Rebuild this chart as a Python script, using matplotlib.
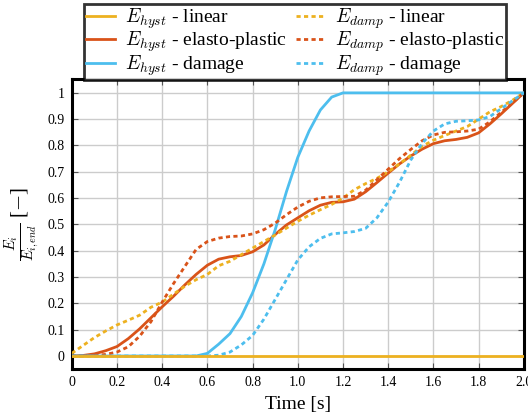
import numpy as np
import matplotlib
matplotlib.use("Agg")
import matplotlib.pyplot as plt

plt.rcParams['font.family'] = ['Liberation Serif', 'DejaVu Serif']
plt.rcParams['mathtext.fontset'] = 'cm'

time = [0.0, 0.05, 0.1, 0.15, 0.2, 0.25, 0.3, 0.35, 0.4, 0.45, 0.5, 0.55, 0.6, 0.65, 0.7,
        0.75, 0.8, 0.85, 0.9, 0.95, 1.0, 1.05, 1.1, 1.15, 1.2, 1.25, 1.3, 1.35, 1.4, 1.45,
        1.5, 1.55, 1.6, 1.65, 1.7, 1.75, 1.8, 1.85, 1.9, 1.95, 2.0]

hyst_linear = [0.0] * 41

hyst_ep = [0.0, 0.002, 0.008, 0.02, 0.036, 0.066, 0.103, 0.145, 0.187, 0.227, 0.27, 0.31,
           0.345, 0.368, 0.377, 0.382, 0.396, 0.422, 0.462, 0.498, 0.525, 0.552, 0.573,
           0.584, 0.586, 0.596, 0.624, 0.659, 0.695, 0.73, 0.76, 0.786, 0.807, 0.818, 0.823,
           0.831, 0.848, 0.882, 0.92, 0.96, 1.0]

hyst_damage = [0.0, 0.0, 0.0, 0.0, 0.0, 0.0, 0.0, 0.0, 0.0, 0.0, 0.0, 0.0, 0.01, 0.045,
               0.085, 0.15, 0.24, 0.35, 0.48, 0.625, 0.755, 0.855, 0.935, 0.984, 1.0, 1.0, 1.0,
               1.0, 1.0, 1.0, 1.0, 1.0, 1.0, 1.0, 1.0, 1.0, 1.0, 1.0, 1.0, 1.0, 1.0]

damp_linear = [0.01, 0.04, 0.07, 0.095, 0.118, 0.136, 0.155, 0.185, 0.205, 0.235, 0.265,
               0.29, 0.31, 0.343, 0.36, 0.385, 0.41, 0.435, 0.46, 0.486, 0.512, 0.535, 0.556,
               0.576, 0.6, 0.632, 0.655, 0.675, 0.7, 0.73, 0.763, 0.797, 0.82, 0.838, 0.855,
               0.872, 0.9, 0.928, 0.948, 0.972, 1.0]

damp_ep = [0.0, 0.0, 0.002, 0.006, 0.015, 0.035, 0.075, 0.13, 0.205, 0.275, 0.34, 0.405,
           0.435, 0.448, 0.454, 0.456, 0.464, 0.48, 0.505, 0.537, 0.566, 0.588, 0.601, 0.605,
           0.606, 0.607, 0.63, 0.67, 0.71, 0.75, 0.785, 0.818, 0.84, 0.85, 0.852, 0.855,
           0.862, 0.89, 0.926, 0.962, 1.0]

damp_damage = [0.0, 0.0, 0.0, 0.0, 0.0, 0.0, 0.0, 0.0, 0.0, 0.0, 0.0, 0.0, 0.0, 0.003,
               0.015, 0.042, 0.078, 0.14, 0.215, 0.29, 0.365, 0.415, 0.447, 0.464, 0.468,
               0.473, 0.485, 0.525, 0.585, 0.66, 0.745, 0.808, 0.855, 0.882, 0.892, 0.894,
               0.897, 0.91, 0.94, 0.97, 1.0]

c_lin = '#EDB120'
c_ep = '#D95319'
c_dmg = '#4DBEEE'

fig = plt.figure(figsize=(5.28, 4.19), dpi=100)
ax = fig.add_axes([0.136, 0.119, 0.856, 0.692])

lw = 2.0
dots = (0, (1.5, 1.2))
kw = dict(solid_joinstyle='round', dash_capstyle='butt')
h1, = ax.plot(time, hyst_linear, color=c_lin, lw=lw, label=r'$E_{hyst}$ - linear', zorder=4, **kw)
h2, = ax.plot(time, hyst_ep, color=c_ep, lw=lw, label=r'$E_{hyst}$ - elasto-plastic', zorder=3, **kw)
h3, = ax.plot(time, hyst_damage, color=c_dmg, lw=lw, label=r'$E_{hyst}$ - damage', zorder=3, **kw)
d1, = ax.plot(time, damp_linear, color=c_lin, lw=lw, ls=dots, label=r'$E_{damp}$ - linear', zorder=3, **kw)
d2, = ax.plot(time, damp_ep, color=c_ep, lw=lw, ls=dots, label=r'$E_{damp}$ - elasto-plastic', zorder=3, **kw)
d3, = ax.plot(time, damp_damage, color=c_dmg, lw=lw, ls=dots, label=r'$E_{damp}$ - damage', zorder=3, **kw)

ax.set_xlim(0, 2)
ax.set_ylim(-0.05, 1.052)
ax.set_xticks(np.arange(0, 2.01, 0.2))
ax.set_xticklabels(['0', '0.2', '0.4', '0.6', '0.8', '1.0', '1.2', '1.4', '1.6', '1.8', '2.0'])
ax.set_yticks(np.arange(0, 1.01, 0.1))
ax.set_yticklabels(['0', '0.1', '0.2', '0.3', '0.4', '0.5', '0.6', '0.7', '0.8', '0.9', '1'])
ax.tick_params(direction='in', length=4, width=0.8, color='#555555', labelsize=10,
               top=True, right=True, pad=5)
ax.grid(True, color='#cccccc', lw=1.0)
ax.set_axisbelow(True)
for s in ax.spines.values():
    s.set_linewidth(2.2)
    s.set_color('black')

ax.set_xlabel('Time [s]', fontsize=14, labelpad=5)
ax.set_ylabel(r'$\frac{E_i}{E_{i,end}}$ [$-$]', fontsize=15, labelpad=4)

leg = fig.legend(handles=[h1, h2, h3, d1, d2, d3], ncol=2, loc='upper center',
                 bbox_to_anchor=(0.559, 0.99), fontsize=14, frameon=True, fancybox=False,
                 edgecolor='black', handlelength=1.5, handletextpad=0.5, columnspacing=0.45,
                 labelspacing=-0.05, borderpad=0.1, borderaxespad=0.0)
leg.get_frame().set_linewidth(2.0)

fig.savefig('out.png', dpi=100)
